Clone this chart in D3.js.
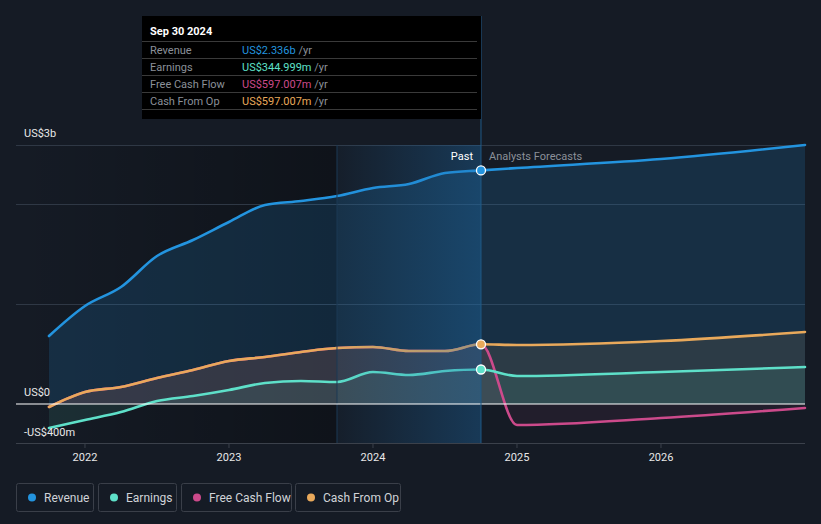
<!DOCTYPE html>
<html><head><meta charset="utf-8">
<script src="https://cdn.jsdelivr.net/npm/d3@7"></script>
<style>
html,body{margin:0;padding:0;background:#151b25;}
svg{display:block;font-family:Roboto,"Noto Sans",sans-serif;}
</style></head>
<body><svg id="c" width="821" height="524"></svg>
<script>
// ---- data ----
const pastDates = [2021.75,2022.0,2022.25,2022.5,2022.75,2023.0,2023.25,2023.5,2023.75,2024.0,2024.25,2024.5,2024.75];
const revenuePast  = [0.68,0.98,1.17,1.48,1.64,1.82,1.99,2.03,2.08,2.16,2.20,2.31,2.336];
const earningsPast = [-0.24,-0.16,-0.08,0.03,0.08,0.14,0.21,0.23,0.22,0.32,0.29,0.33,0.345];
const cfoPast      = [-0.03,0.12,0.17,0.26,0.34,0.43,0.47,0.52,0.56,0.57,0.53,0.53,0.597];
const fcfPast      = [-0.03,0.12,0.17,0.26,0.34,0.43,0.47,0.52,0.56,0.57,0.53,0.53,0.597];
const fcDates = [2024.75,2025.0,2026.0,2027.0];
const revenueFc  = [2.336,2.36,2.45,2.59];
const earningsFc = [0.345,0.28,0.32,0.37];
const cfoFc      = [0.597,0.59,0.63,0.72];
const fcfFc      = [0.597,-0.21,-0.14,-0.04];
const yearTicks = [2022,2023,2024,2025,2026];
const yLabels = [{v:2.59,t:"US$3b"},{v:0,t:"US$0"},{v:-0.4,t:"-US$400m"}];
const gridVals = [1,2];
const seriesNames = ["Revenue","Earnings","Free Cash Flow","Cash From Op"];
const colors = ["#2394df","#5ee0c9","#cc4a8b","#e9a95b"];
const tipDate = "Sep 30 2024";
const tipValues = ["US$2.336b","US$344.999m","US$597.007m","US$597.007m"];

// ---- scales ----
const svg = d3.select("#c");
const x = d3.scaleLinear().domain([2021.521,2027.0]).range([16,805]);
const y = d3.scaleLinear().domain([-0.4,2.59]).range([444,145]);

const defs = svg.append("defs");
const g1 = defs.append("linearGradient").attr("id","pastShade").attr("x1","0").attr("x2","1").attr("y1","0").attr("y2","0");
g1.append("stop").attr("offset","0").attr("stop-color","#000").attr("stop-opacity",0);
g1.append("stop").attr("offset","1").attr("stop-color","#000").attr("stop-opacity",0.3);
const g2 = defs.append("linearGradient").attr("id","band").attr("x1","0").attr("x2","1").attr("y1","0").attr("y2","0");
g2.append("stop").attr("offset","0").attr("stop-color","#1d6fb0").attr("stop-opacity",0.04);
g2.append("stop").attr("offset","1").attr("stop-color","#1d6fb0").attr("stop-opacity",0.36);

// past shading
svg.append("rect").attr("x",16).attr("y",y(2.59)).attr("width",x(2023.75)-16).attr("height",443-y(2.59)).attr("fill","url(#pastShade)");

// grid
svg.selectAll(".grid").data(gridVals.concat([2.59])).enter().append("line")
  .attr("x1",16).attr("x2",805).attr("y1",d=>Math.round(y(d))+0.5).attr("y2",d=>Math.round(y(d))+0.5)
  .attr("stroke","#2f3845").attr("stroke-width",1);

const curve = d3.curveMonotoneX;
function mk(dates, vals){ return dates.map((d,i)=>({d, v: vals[i]})); }
const area = d3.area().x(p=>x(p.d)).y0(y(0)).y1(p=>y(p.v)).curve(curve);
const line = d3.line().x(p=>x(p.d)).y(p=>y(p.v)).curve(curve);

const series = [
  {name:"Revenue", c:colors[0], past:revenuePast, fc:revenueFc, op:0.17},
  {name:"Cash From Op", c:colors[3], past:cfoPast, fc:cfoFc, op:0.10},
  {name:"Earnings", c:colors[1], past:earningsPast, fc:earningsFc, op:0.10},
  {name:"Free Cash Flow", c:colors[2], past:fcfPast, fc:fcfFc, op:0.075},
];
series.forEach(s=>{
  const all = mk(pastDates,s.past).concat(mk(fcDates,s.fc).slice(1));
  svg.append("path").attr("d",area(all)).attr("fill",s.c).attr("fill-opacity",s.op);
});

// lines: draw FCF first so CFO sits on top in the past
const lineOrder = [series[0],series[3],series[2],series[1]];
lineOrder.forEach(s=>{
  const all = mk(pastDates,s.past).concat(mk(fcDates,s.fc).slice(1));
  svg.append("path").attr("d",line(all)).attr("fill","none").attr("stroke",s.c).attr("stroke-width",2.6)
    .attr("stroke-linecap","round");
});

// highlight band (last year) over the marks
svg.append("rect").attr("x",x(2023.75)).attr("y",y(2.59)).attr("width",x(2024.75)-x(2023.75)).attr("height",443-y(2.59)).attr("fill","url(#band)");
svg.append("line").attr("x1",x(2023.75)).attr("x2",x(2023.75)).attr("y1",y(2.59)).attr("y2",443).attr("stroke","#1c3a55").attr("stroke-width",1);

// zero line
svg.append("line").attr("x1",16).attr("x2",805).attr("y1",y(0)).attr("y2",y(0)).attr("stroke","#ffffff").attr("stroke-width",1.2);

// axis
svg.append("line").attr("x1",16).attr("x2",805).attr("y1",443.5).attr("y2",443.5).attr("stroke","#3b414b");
const xa = svg.append("g");
yearTicks.forEach(t=>{
  xa.append("line").attr("x1",x(t)).attr("x2",x(t)).attr("y1",443).attr("y2",448).attr("stroke","#3b414b");
  xa.append("text").attr("x",x(t)).attr("y",461).attr("text-anchor","middle").attr("fill","#e8e8e8")
    .attr("font-size",11).text(String(t));
});
yLabels.forEach(l=>{
  svg.append("text").attr("x",24).attr("y",y(l.v)-8).attr("fill","#e8e8e8").attr("font-size",11).text(l.t);
});

// divider line & labels
svg.append("line").attr("x1",x(2024.75)).attr("x2",x(2024.75)).attr("y1",16).attr("y2",443)
  .attr("stroke","#1f5a86").attr("stroke-width",1);
svg.append("text").attr("x",x(2024.75)-8).attr("y",160).attr("text-anchor","end").attr("fill","#ffffff").attr("font-size",11).text("Past");
svg.append("text").attr("x",x(2024.75)+8).attr("y",160).attr("fill","#8b9099").attr("font-size",11).text("Analysts Forecasts");

// markers
[[revenuePast,colors[0]],[cfoPast,colors[3]],[earningsPast,colors[1]]].forEach(([arr,c])=>{
  svg.append("circle").attr("cx",x(2024.75)).attr("cy",y(arr[arr.length-1])).attr("r",4.5)
    .attr("fill",c).attr("stroke","#ffffff").attr("stroke-width",1.3);
});

// tooltip
const tip = svg.append("g");
tip.append("rect").attr("x",142).attr("y",16).attr("width",x(2024.75)-142).attr("height",103).attr("fill","#000");
tip.append("text").attr("x",150).attr("y",35).attr("fill","#fff").attr("font-size",11).attr("font-weight",700).text(tipDate);
const rowY = [50,67,84,101];
[41,58,75,92,109].forEach(yy=>{
  tip.append("line").attr("x1",142).attr("x2",x(2024.75)-4).attr("y1",yy+0.5).attr("y2",yy+0.5).attr("stroke","#3a3a3a");
});
seriesNames.forEach((n,i)=>{
  tip.append("text").attr("x",150).attr("y",rowY[i]+4).attr("fill","#8b9099").attr("font-size",11).text(n);
  const t = tip.append("text").attr("x",242).attr("y",rowY[i]+4).attr("font-size",11);
  t.append("tspan").attr("fill",colors[i]).text(tipValues[i]);
  t.append("tspan").attr("fill","#8b9099").text(" /yr");
});

// legend
const legX = [16,98,181,295];
const legW = [77,78,110,105];
seriesNames.forEach((n,i)=>{
  const lg = svg.append("g");
  lg.append("rect").attr("x",legX[i]+0.5).attr("y",483.5).attr("width",legW[i]).attr("height",28).attr("rx",2)
    .attr("fill","none").attr("stroke","#3a3f49");
  lg.append("circle").attr("cx",legX[i]+16).attr("cy",497.5).attr("r",4).attr("fill",colors[i]);
  lg.append("text").attr("x",legX[i]+28).attr("y",501.5).attr("fill","#d0d3d8").attr("font-size",12).text(n);
});
</script></body></html>
